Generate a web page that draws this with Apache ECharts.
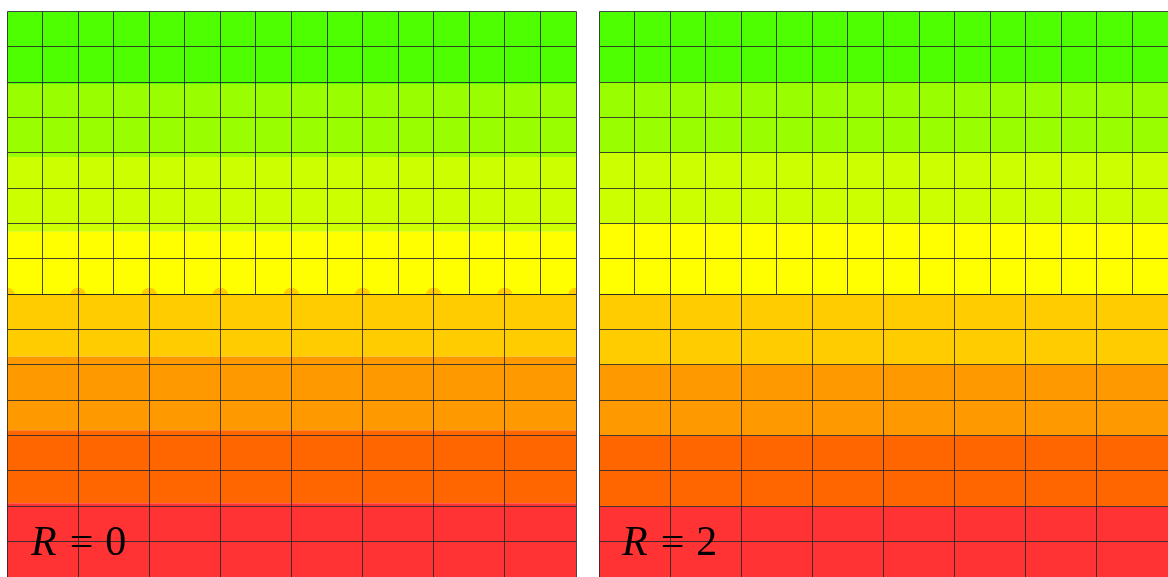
<!DOCTYPE html>
<html>
<head>
<meta charset="utf-8">
<script src="https://cdn.jsdelivr.net/npm/echarts@6/dist/echarts.min.js"></script>
<style>
  html, body { margin: 0; padding: 0; background: #ffffff; }
  #chart { width: 1168px; height: 577px; }
</style>
</head>
<body>
<div id="chart"></div>
<script>
// Contour bands, top to bottom (y measured downward, domain 0..16)
const bandColors = ['#4dff00', '#99ff00', '#ccff00', '#ffff00', '#ffcc00', '#ff9900', '#ff6600', '#ff3333'];

// Band edges for each refinement level
const bandEdgesR0 = [0, 2.05, 4.12, 6.23, 8.0, 9.77, 11.85, 13.91, 16];
const bandEdgesR2 = [0, 2, 4, 6, 8, 10, 12, 14, 16];

// Small overshoot bumps along the interface of the unrefined solution
const bumpXR0 = [0, 2, 4, 6, 8, 10, 12, 14, 16];
const bumpYR0 = 8;

// Mesh: fine upper block, coarse lower block  [x0, x1, y0, y1, columns, rows]
const meshBlocks = [
  [0, 16, 0, 8, 16, 8],
  [0, 16, 8, 16, 8, 8]
];

const panelLabels = ['0', '2'];

const DOMAIN = 16;

function bandSeries(idx, edges) {
  return {
    type: 'custom',
    xAxisIndex: idx, yAxisIndex: idx,
    silent: true,
    clip: true,
    data: bandColors.map((c, i) => [edges[i], edges[i + 1], i]),
    renderItem(params, api) {
      const p0 = api.coord([0, api.value(0)]);
      const p1 = api.coord([DOMAIN, api.value(1)]);
      return {
        type: 'rect',
        shape: { x: p0[0], y: p0[1], width: p1[0] - p0[0], height: p1[1] - p0[1] },
        style: { fill: bandColors[api.value(2)] }
      };
    }
  };
}

function bumpSeries(idx, xs, y, color) {
  return {
    type: 'custom',
    xAxisIndex: idx, yAxisIndex: idx,
    silent: true,
    clip: true,
    data: xs.map(x => [x, y]),
    renderItem(params, api) {
      const c = api.coord([api.value(0), api.value(1)]);
      const rx = 7.5, ry = 6.5;
      const pts = [];
      for (let k = 0; k <= 24; k++) {
        const a = Math.PI * k / 24;
        pts.push([c[0] + rx * Math.cos(a), c[1] - ry * Math.sin(a)]);
      }
      return { type: 'polygon', shape: { points: pts }, style: { fill: color } };
    }
  };
}

function meshSeries(idx) {
  const segs = [];
  meshBlocks.forEach(([x0, x1, y0, y1, nx, ny]) => {
    const dx = (x1 - x0) / nx, dy = (y1 - y0) / ny;
    for (let j = 0; j <= ny; j++) segs.push([x0, y0 + j * dy, x1, y0 + j * dy]);
    for (let i = 0; i <= nx; i++) segs.push([x0 + i * dx, y0, x0 + i * dx, y1]);
  });
  const snap = v => Math.round(v - 0.5) + 0.5;
  return {
    type: 'custom',
    xAxisIndex: idx, yAxisIndex: idx,
    silent: true,
    clip: false,
    data: segs,
    renderItem(params, api) {
      const a = api.coord([api.value(0), api.value(1)]);
      const b = api.coord([api.value(2), api.value(3)]);
      return {
        type: 'line',
        shape: { x1: snap(a[0]), y1: snap(a[1]), x2: snap(b[0]), y2: snap(b[1]) },
        style: { stroke: 'rgba(40,40,40,0.85)', lineWidth: 1 }
      };
    }
  };
}

const grids = [
  { left: 7, top: 11.5, width: 569, height: 569 },
  { left: 599, top: 11.5, width: 569, height: 569 }
];

const axisCommon = { type: 'value', min: 0, max: DOMAIN, show: false };

const option = {
  animation: false,
  backgroundColor: '#ffffff',
  grid: grids,
  xAxis: grids.map((g, i) => Object.assign({ gridIndex: i }, axisCommon)),
  yAxis: grids.map((g, i) => Object.assign({ gridIndex: i, inverse: true }, axisCommon)),
  series: [
    bandSeries(0, bandEdgesR0),
    bumpSeries(0, bumpXR0, bumpYR0, bandColors[4]),
    meshSeries(0),
    bandSeries(1, bandEdgesR2),
    meshSeries(1)
  ],
  graphic: panelLabels.map((v, i) => ({
    type: 'text',
    left: (i === 0 ? 31 : 622),
    top: 523,
    z: 100,
    style: {
      text: '{i|R}{e|=}{n|' + v + '}',
      rich: {
        i: { fontFamily: 'Liberation Serif', fontStyle: 'italic', fontSize: 42, fill: '#000' },
        e: { fontFamily: 'Liberation Serif', fontSize: 42, fill: '#000', padding: [0, 12, 0, 13] },
        n: { fontFamily: 'Liberation Serif', fontSize: 42, fill: '#000' }
      }
    }
  }))
};

const chart = echarts.init(document.getElementById('chart'), null, { renderer: 'canvas' });
chart.setOption(option);
</script>
</body>
</html>
